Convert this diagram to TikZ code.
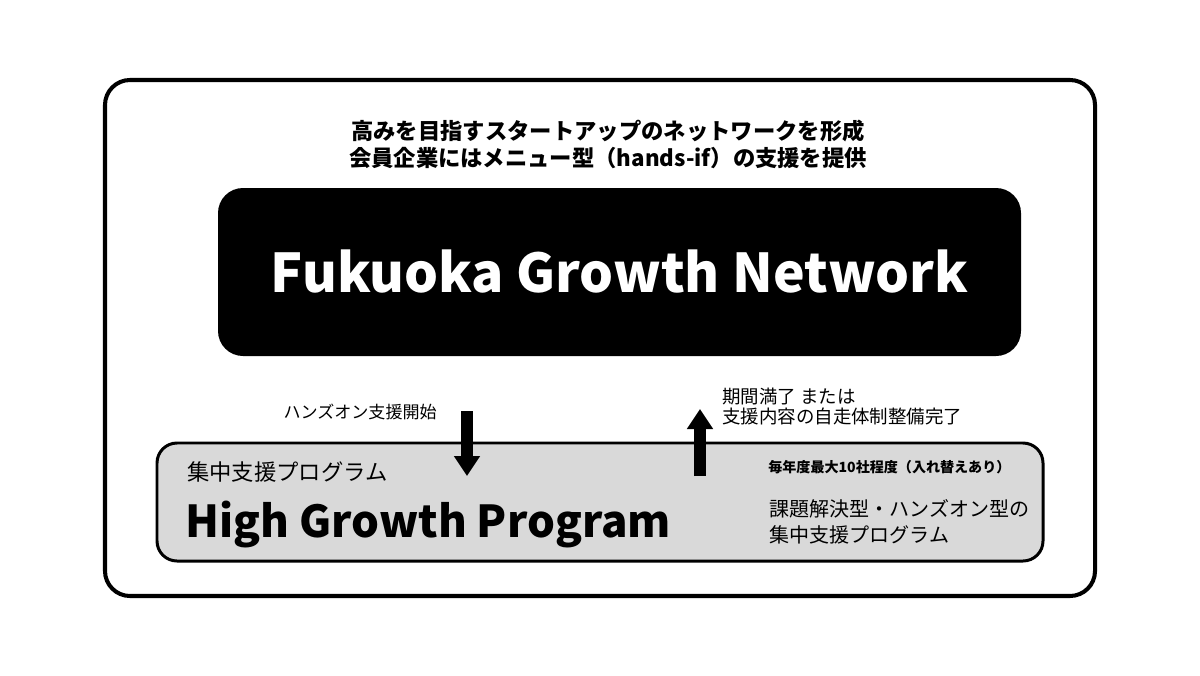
\documentclass[tikz,border=0pt]{standalone}
\usepackage{fontspec}
\setmainfont{Noto Sans CJK JP}
\usetikzlibrary{arrows.meta,positioning}

\definecolor{boxgray}{HTML}{D9D9D9}
\tikzset{
	bigarrow/.style={line width=0.23cm,-{Triangle[width=0.5cm,length=0.4cm]}},
	lbl/.style={inner sep=0pt,font=\fontsize{9.7}{12}\selectfont}
}

\begin{document}
\begin{tikzpicture}
		\useasboundingbox (0,0) rectangle (24,13.5);
		\def\rr{0.5};
		% frame
		\draw[line width=2.3pt,rounded corners=\rr cm] (2.1,1.58) rectangle (21.9,11.9);
		
		\node[inner sep=0pt,align=center,font=\bfseries\fontsize{12.7}{15.3}\selectfont] (lead) at (12.16,10.61)
			{高みを目指すスタートアップのネットワークを形成\\会員企業にはメニュー型（hands-if）の支援を提供};
		
		\node[fill=black,rounded corners=\rr cm,minimum width=16.06cm,minimum height=3.36cm,text=white,
			font=\bfseries\fontsize{30.4}{36}\selectfont] (fgn) at (12.39,8.06) {Fukuoka Growth Network};
		
		\node[draw,line width=1.7pt,fill=boxgray,rounded corners=0.4cm,minimum width=17.72cm,minimum height=2.36cm] (hgp) at (12,3.46) {};
		
		\node[lbl,anchor=west,font=\fontsize{12.7}{15}\selectfont] (sub) at (3.74,4.06) {集中支援プログラム};
		\node[inner sep=0pt,anchor=base west,font=\bfseries\fontsize{25}{30}\selectfont] (title) at (3.7,2.76) {High Growth Program};
		\node[inner sep=0pt,anchor=west,font=\bfseries\fontsize{8}{10}\selectfont] (quota) at (15.36,4.16) {毎年度最大10社程度（入れ替えあり）};
		\node[inner sep=0pt,anchor=west,align=left,font=\fontsize{11.4}{14.7}\selectfont] (desc) at (15.38,3.06)
			{課題解決型・ハンズオン型の\\集中支援プログラム};
		
		\node[lbl,anchor=east] (start) at (8.74,5.26) {ハンズオン支援開始};
		\node[lbl,anchor=west,align=left,font=\fontsize{10.5}{11.9}\selectfont] (end) at (14.44,5.37)
			{期間満了 または\\支援内容の自走体制整備完了};
		
		\coordinate (intop) at (9.34,5.28);
		\coordinate (inbot) at (9.34,3.98);
		\coordinate (outbot) at (14.0,3.98);
		\coordinate (outtop) at (14.0,5.32);
		\draw[bigarrow] (intop) -- (inbot);
		\draw[bigarrow] (outbot) -- (outtop);
\end{tikzpicture}
\end{document}
